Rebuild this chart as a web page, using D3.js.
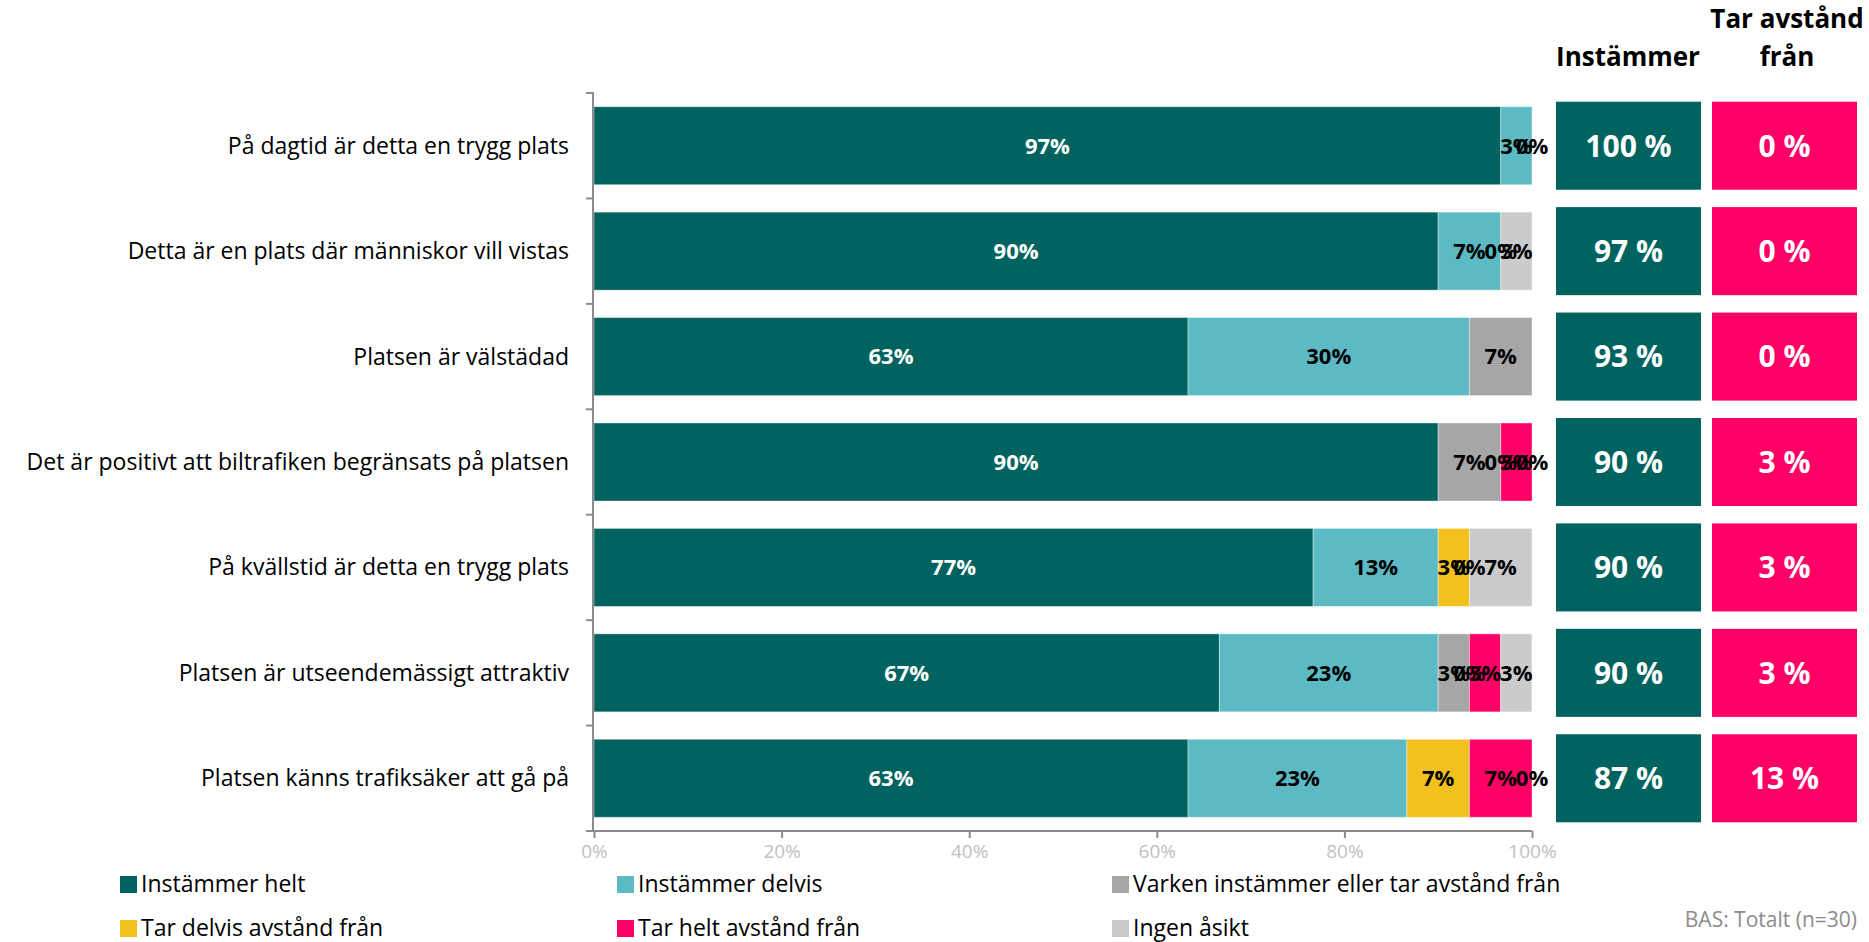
<!DOCTYPE html>
<html>
<head>
<meta charset="utf-8">
<script src="https://cdn.jsdelivr.net/npm/d3@7"></script>
<style>
  body { margin: 0; background: #fff; }
  svg { font-family: "Open Sans", Lato, sans-serif; }
</style>
</head>
<body>
<svg id="chart" width="1869" height="942"></svg>
<script>
const categories = [
  'På dagtid är detta en trygg plats',
  'Detta är en plats där människor vill vistas',
  'Platsen är välstädad',
  'Det är positivt att biltrafiken begränsats på platsen',
  'På kvällstid är detta en trygg plats',
  'Platsen är utseendemässigt attraktiv',
  'Platsen känns trafiksäker att gå på'
]
const seriesNames = ['Instämmer helt', 'Instämmer delvis', 'Varken instämmer eller tar avstånd från',
                     'Tar delvis avstånd från', 'Tar helt avstånd från', 'Ingen åsikt']
const seriesColors = ['#00635f', '#5cbac4', '#a6a6a6', '#f2c11f', '#ff0066', '#cbcbcb']

// percent per series, one array per series (row order = categories)
const helt     = [96.67, 90.00, 63.33, 90.00, 76.67, 66.67, 63.33]
const delvis   = [ 3.33,  6.67, 30.00,  0.00, 13.33, 23.33, 23.33]
const varken   = [ 0.00,  0.00,  6.67,  6.67,  0.00,  3.33,  0.00]
const delvisAv = [ 0.00,  0.00,  0.00,  0.00,  3.33,  0.00,  6.67]
const heltAv   = [ 0.00,  0.00,  0.00,  3.33,  0.00,  3.33,  6.67]
const ingen    = [ 0.00,  3.33,  0.00,  0.00,  6.67,  3.33,  0.00]
// which zero-valued segments still carry a "0%" label (series index)
const zeroLabels = [[2], [2], [], [3, 5], [4], [3], [5]]

const instammer = [100, 97, 93, 90, 90, 90, 87]
const tarAvstand = [0, 0, 0, 3, 3, 3, 13]
const xTicks = [0, 20, 40, 60, 80, 100]

const allSeries = [helt, delvis, varken, delvisAv, heltAv, ingen]

const svg = d3.select('#chart')

const x = d3.scaleLinear().domain([0, 100]).range([594, 1532])
const y = d3.scaleBand().domain(categories).range([93, 831]).paddingInner(0.26).paddingOuter(0.13)
const yBox = d3.scaleBand().domain(categories).range([93, 831]).paddingInner(0.165).paddingOuter(0.0825)

// stacked rows
const rows = categories.map((cat, i) => {
  let acc = 0
  return allSeries.map((s, k) => {
    const seg = {cat: cat, k: k, row: i, v: s[i], x0: acc, x1: acc + s[i]}
    acc += s[i]
    return seg
  })
})

const g = svg.append('g')

g.selectAll('g.row').data(rows).join('g')
  .attr('class', 'row')
  .each(function(segs) {
    d3.select(this).selectAll('rect').data(segs.filter(d => d.v > 0)).join('rect')
      .attr('x', d => x(d.x0))
      .attr('y', d => y(d.cat))
      .attr('width', d => x(d.x1) - x(d.x0))
      .attr('height', y.bandwidth())
      .attr('fill', d => seriesColors[d.k])
      .attr('stroke', '#ffffff')
      .attr('stroke-opacity', 0.4)
      .attr('stroke-width', 1)
  })

// value labels
const labelData = rows.flat().filter(d => d.v > 0 || zeroLabels[d.row].includes(d.k))
g.selectAll('text.val').data(labelData).join('text')
  .attr('class', 'val')
  .attr('x', d => x((d.x0 + d.x1) / 2))
  .attr('y', d => y(d.cat) + y.bandwidth() / 2)
  .attr('dy', '0.36em')
  .attr('text-anchor', 'middle')
  .style('font-size', '22px')
  .style('font-weight', 'bold')
  .attr('fill', d => d.k === 0 ? '#ffffff' : '#000000')
  .text(d => Math.round(d.v) + '%')

// axes
const yAxis = d3.axisLeft(y).tickSize(0).tickFormat('')
const yAx = svg.append('g').attr('transform', 'translate(593,0)').call(yAxis)
yAx.select('.domain').attr('stroke', '#8c8c8c').attr('stroke-width', 2).attr('d', 'M-7,93H0V831H-7')
// tick marks between categories
svg.append('g').selectAll('line').data(d3.range(categories.length + 1)).join('line')
  .attr('x1', 586).attr('x2', 593)
  .attr('y1', i => 93 + i * y.step())
  .attr('y2', i => 93 + i * y.step())
  .attr('stroke', '#8c8c8c').attr('stroke-width', 2)

svg.append('g').selectAll('text').data(categories).join('text')
  .attr('x', 569)
  .attr('y', d => y(d) + y.bandwidth() / 2)
  .attr('dy', '0.35em')
  .attr('text-anchor', 'end')
  .style('font-size', '23px')
  .attr('fill', '#000')
  .text(d => d)

const xAxis = d3.axisBottom(x).tickValues(xTicks).tickSize(7).tickFormat(d => d + '%')
const xAx = svg.append('g').attr('transform', 'translate(0,831)').call(xAxis)
xAx.select('.domain').attr('stroke', '#8c8c8c').attr('stroke-width', 2).attr('d', 'M594,0H1532')
xAx.selectAll('.tick line').attr('stroke', '#8c8c8c').attr('stroke-width', 2)
xAx.selectAll('.tick text').attr('fill', '#bfbfbf').style('font-size', '19px').attr('y', 14)
  .style('font-family', '"Open Sans", sans-serif')

// summary boxes
const boxes = svg.append('g')
boxes.selectAll('rect.ins').data(categories).join('rect')
  .attr('x', 1556).attr('width', 145)
  .attr('y', d => yBox(d)).attr('height', yBox.bandwidth())
  .attr('fill', '#00635f')
boxes.selectAll('rect.tar').data(categories).join('rect')
  .attr('x', 1712).attr('width', 145)
  .attr('y', d => yBox(d)).attr('height', yBox.bandwidth())
  .attr('fill', '#ff0066')
boxes.selectAll('text.ins').data(instammer).join('text')
  .attr('class', 'ins')
  .attr('x', 1628.5)
  .attr('y', (d, i) => yBox(categories[i]) + yBox.bandwidth() / 2)
  .attr('dy', '0.36em').attr('text-anchor', 'middle')
  .style('font-size', '30px').style('font-weight', 'bold').attr('fill', '#fff')
  .text(d => d + ' %')
boxes.selectAll('text.tar').data(tarAvstand).join('text')
  .attr('class', 'tar')
  .attr('x', 1784.5)
  .attr('y', (d, i) => yBox(categories[i]) + yBox.bandwidth() / 2)
  .attr('dy', '0.36em').attr('text-anchor', 'middle')
  .style('font-size', '30px').style('font-weight', 'bold').attr('fill', '#fff')
  .text(d => d + ' %')

// headers
svg.append('text').attr('x', 1628).attr('y', 66).attr('text-anchor', 'middle')
  .style('font-size', '26px').style('font-weight', 'bold').text('Instämmer')
svg.append('text').attr('x', 1787).attr('y', 28).attr('text-anchor', 'middle')
  .style('font-size', '26px').style('font-weight', 'bold').text('Tar avstånd')
svg.append('text').attr('x', 1787).attr('y', 66).attr('text-anchor', 'middle')
  .style('font-size', '26px').style('font-weight', 'bold').text('från')

// legend
const legendX = [120, 617, 1112]
const legendY = [884, 928]
const leg = svg.append('g').selectAll('g').data(seriesNames).join('g')
  .attr('transform', (d, i) => `translate(${legendX[i % 3]},${legendY[Math.floor(i / 3)]})`)
leg.append('rect').attr('x', 0).attr('y', -8).attr('width', 17).attr('height', 17)
  .attr('fill', (d, i) => seriesColors[i])
leg.append('text').attr('x', 21).attr('dy', '0.35em')
  .style('font-size', '23px').attr('fill', '#000')
  .text(d => d)

svg.append('text').attr('x', 1857).attr('y', 920).attr('dy', '0.35em')
  .attr('text-anchor', 'end').style('font-size', '21px').attr('fill', '#8c8c8c')
  .text('BAS: Totalt (n=30)')
</script>
</body>
</html>
